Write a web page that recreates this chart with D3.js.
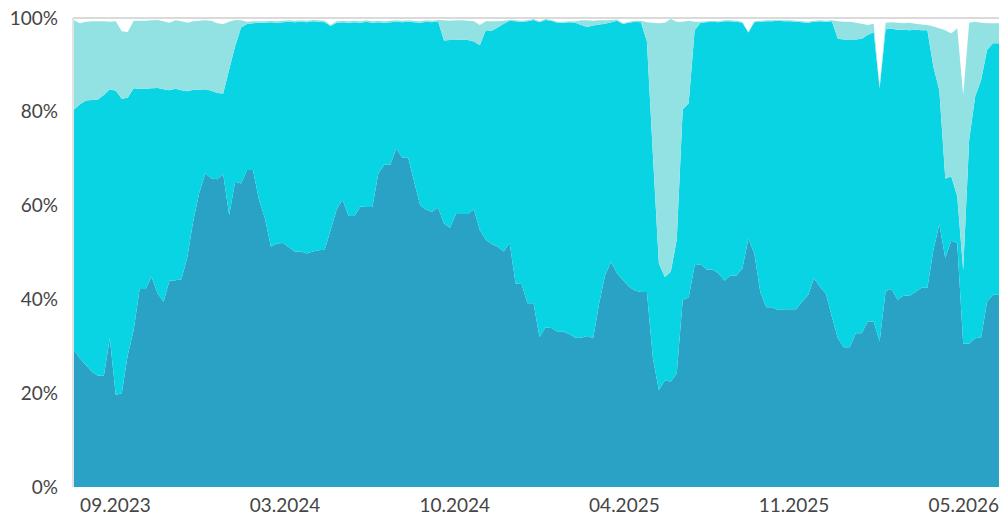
<!DOCTYPE html>
<html>
<head>
<meta charset="utf-8">
<script src="https://cdn.jsdelivr.net/npm/d3@7"></script>
<style>
    body { margin: 0; background: #fff; }
    #chart { width: 999px; height: 517px; }
    .axis text { font-family: Lato, "Open Sans", sans-serif; font-size: 19px; fill: #454545; }
</style>
</head>
<body>
<div id="chart"></div>
<script>
// weekly shares in %, bottom to top; what is left up to 100 stays blank
const darkShare = [29.2,27.4,26.0,24.6,23.7,23.7,31.7,19.6,20.0,28.1, 33.5,42.2,42.2,44.8,41.3,39.5,44.0,44.1,44.3,49.1,
    56.9,62.8,66.9,65.8,65.6,66.7,58.0,65.1,64.7,67.6, 67.6,61.2,57.3,51.2,51.9,52.0,51.1,50.2,50.2,49.8,
    50.2,50.5,50.6,54.8,59.1,61.3,57.8,57.8,59.8,59.7, 59.7,66.9,68.7,68.7,72.2,70.2,70.2,65.1,60.1,59.1,
    58.7,59.6,56.2,55.3,58.2,58.2,58.2,59.2,54.8,52.7, 51.8,51.2,50.2,52.0,43.4,43.3,39.2,39.2,32.0,34.0,
    33.9,33.1,33.1,32.6,31.8,31.8,32.2,31.7,39.2,45.2, 48.0,45.6,44.1,42.7,41.9,41.6,41.6,27.5,20.7,22.7,
    22.5,24.2,39.9,40.4,47.3,47.5,46.4,46.4,45.6,44.0, 45.1,45.1,46.6,53.0,49.8,41.6,38.3,38.3,37.7,37.9,
    37.9,37.9,39.5,40.9,44.5,42.7,41.2,36.3,31.7,29.8, 29.8,32.8,32.8,35.3,35.3,31.0,41.8,42.2,39.9,40.8,
    40.8,41.6,42.5,42.5,50.5,56.0,48.8,52.5,52.0,30.6, 30.6,31.7,31.9,39.5,41.0,41.0]

const cyanShare = [51.3,54.2,56.4,57.9,58.9,59.9,53.1,64.9,62.8,54.9, 51.5,42.7,42.7,40.2,43.8,45.3,40.6,40.8,40.3,35.3,
    27.8,21.9,17.9,18.7,18.4,17.2,31.0,28.9,33.3,31.1, 31.3,37.8,41.7,47.9,47.1,47.1,48.1,48.9,49.0,49.3,
    49.1,48.7,48.5,43.5,39.9,37.8,41.2,41.3,39.2,39.5, 39.3,32.2,30.3,30.4,27.0,28.9,29.0,34.0,38.9,40.1,
    40.4,39.7,39.0,40.0,37.1,37.2,37.1,35.8,39.4,44.7, 45.5,46.8,48.6,47.4,55.9,55.9,60.1,60.4,67.1,65.6,
    65.5,65.9,65.9,66.5,67.2,66.7,65.9,66.7,59.4,53.6, 51.1,53.8,54.6,56.3,57.3,57.5,53.4,43.5,27.0,22.1,
    23.4,28.5,40.6,41.4,50.1,51.5,52.7,52.8,53.5,55.3, 54.2,54.1,52.4,43.9,49.3,57.6,61.0,61.0,61.7,61.4,
    61.4,61.3,59.6,58.1,54.7,56.6,58.0,63.0,63.9,65.6, 65.6,62.6,62.8,61.1,61.7,54.0,55.8,55.5,57.6,56.7,
    56.6,55.9,54.9,54.9,39.1,28.6,17.0,13.7,10.0,15.6, 43.4,51.5,54.9,53.7,53.6,53.6]

const lightShare = [19.0,17.3,16.8,16.8,16.7,15.7,14.4,14.8,14.4,14.0, 14.4,14.5,14.5,14.5,14.5,14.5,14.4,14.6,14.7,14.6,
    14.6,14.7,14.7,14.9,14.9,14.8,10.2,5.6,1.5,0.5, 0.4,0.3,0.3,0.3,0.3,0.3,0.3,0.3,0.3,0.3,
    0.3,0.3,0.3,0.2,0.3,0.3,0.3,0.3,0.3,0.3, 0.3,0.3,0.3,0.3,0.3,0.3,0.3,0.3,0.3,0.3,
    0.3,0.3,4.3,4.1,4.2,4.1,4.1,4.3,4.3,1.9, 2.0,1.3,0.6,0.2,0.2,0.2,0.2,0.2,0.2,0.2,
    0.2,0.2,0.2,0.2,0.3,1.0,1.4,1.0,0.9,0.7, 0.5,0.3,0.2,0.2,0.2,0.3,4.1,28.0,51.2,54.2,
    53.9,46.5,18.7,17.6,1.8,0.2,0.2,0.2,0.2,0.2, 0.2,0.2,0.2,0.1,0.2,0.2,0.2,0.2,0.2,0.2,
    0.2,0.2,0.2,0.2,0.2,0.2,0.2,0.2,3.7,3.8, 3.8,3.6,3.2,2.1,1.8,0.4,1.4,1.4,1.5,1.4,
    1.6,1.3,1.2,1.1,8.6,13.2,31.6,30.5,35.8,37.4, 25.0,16.0,12.2,5.7,4.3,4.3]

const tickDates = ["2023-09-03", "2024-03-20", "2024-10-05", "2025-04-22", "2025-11-07", "2026-05-25"]
const yTicks = [0, 20, 40, 60, 80, 100]

const keys = ["dark", "cyan", "light"]
const colors = {dark: "#2aa2c5", cyan: "#08d4e4", light: "#93e2e3"}

var width = 999, height = 517
const margin = {top: 18, right: 0, bottom: 30, left: 74}

var firstWeek = new Date(2023, 6, 17)
var weeks = d3.timeMonday.range(firstWeek, d3.timeDay.offset(firstWeek, 7 * darkShare.length))

var rows = weeks.map(function(d, i) {
    return {date: d, dark: darkShare[i], cyan: cyanShare[i], light: lightShare[i]}
})
var series = d3.stack().keys(keys)(rows)

var xScale = d3.scaleTime()
    .domain([weeks[0], weeks[weeks.length - 1]])
    .range([margin.left, width - margin.right])
var yScale = d3.scaleLinear()
    .domain([0, 100])
    .range([height - margin.bottom, margin.top])

var svg = d3.select("#chart")
    .append("svg")
    .attr("width", width)
    .attr("height", height)
    .attr("display", "block")

svg.append("defs").append("clipPath")
    .attr("id", "clipPlot")
    .append("rect")
    .attr("x", margin.left)
    .attr("y", margin.top)
    .attr("width", width - margin.left - margin.right)
    .attr("height", height - margin.top - margin.bottom)

// frame: 100% line and left edge
svg.append("line")
    .attr("x1", margin.left - 1).attr("x2", width)
    .attr("y1", yScale(100)).attr("y2", yScale(100))
    .attr("stroke", "#dadada").attr("stroke-width", 2)
svg.append("line")
    .attr("x1", margin.left - 1).attr("x2", margin.left - 1)
    .attr("y1", yScale(100)).attr("y2", yScale(0))
    .attr("stroke", "#dadada").attr("stroke-width", 1.5)

var area = d3.area()
    .x(function(d) { return xScale(d.data.date) })
    .y0(function(d) { return yScale(d[0]) })
    .y1(function(d) { return yScale(d[1]) })

svg.append("g")
    .attr("clip-path", "url(#clipPlot)")
    .selectAll("path")
    .data(series)
    .enter()
    .append("path")
    .attr("fill", function(s) { return colors[s.key] })
    .attr("d", area)

var parseDay = d3.timeParse("%Y-%m-%d")
var xAxis = d3.axisBottom(xScale)
    .tickValues(tickDates.map(parseDay))
    .tickFormat(d3.timeFormat("%m.%Y"))
    .tickSize(0)
    .tickPadding(12)
svg.append("g")
    .attr("class", "axis")
    .attr("transform", "translate(0," + (height - margin.bottom) + ")")
    .call(xAxis)
    .call(function(g) { g.select(".domain").remove() })

var yAxis = d3.axisLeft(yScale)
    .tickValues(yTicks)
    .tickFormat(function(d) { return d + "%" })
    .tickSize(0)
    .tickPadding(16)
svg.append("g")
    .attr("class", "axis")
    .attr("transform", "translate(" + margin.left + ",0)")
    .call(yAxis)
    .call(function(g) { g.select(".domain").remove() })
</script>
</body>
</html>
